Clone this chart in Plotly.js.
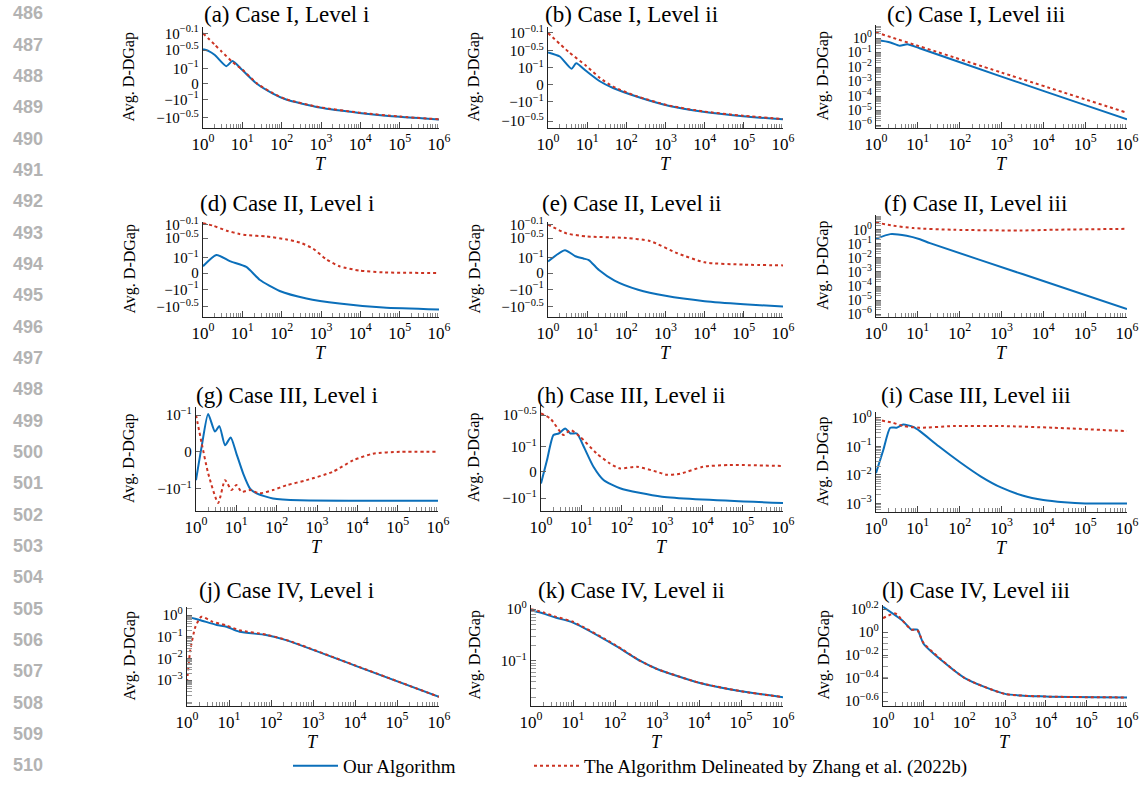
<!DOCTYPE html>
<html><head><meta charset="utf-8">
<script src="https://cdn.plot.ly/plotly-3.0.1.min.js"></script>
<style>body{margin:0;background:#fff}#chart{width:1140px;height:786px}</style>
</head><body><div id="chart"></div>
<script>
// ---------- data (T values, and y values in each panel's axis units) ----------
const a_our_T=[1,1.4,2,3.9,5.6,10,23,60,130,930,9500,1e5,1e6];
const a_our_y=[2.27,2.15,1.89,1.15,1.49,0.89,0,-0.67,-1.07,-1.6,-1.96,-2.22,-2.4];
const a_zh_T=[1,2,3,5.75,10,23,60,130,930,9500,1e5,1e6];
const a_zh_y=[3.33,2.57,2.11,1.4,0.92,0.02,-0.65,-1.05,-1.58,-1.94,-2.2,-2.38];

const b_our_T=[1,2,4,5.25,9.5,21,46,182,1260,9100,95500,1e6];
const b_our_y=[1.9,1.66,0.94,1.26,0.8,0.2,-0.2,-0.7,-1.26,-1.6,-1.86,-2.05];
const b_zh_T=[1,3.5,9.5,21,46,182,1260,9100,95500,1e6];
const b_zh_y=[3.04,1.9,1.1,0.4,-0.12,-0.68,-1.24,-1.58,-1.84,-2.03];

const c_our_T=[1,2.2,3.7,5.6,11,1000,1e5,1e6];
const c_our_y=[0.76,0.5,0.295,0.38,0.2,0.0022,0.000024,0.0000025];
const c_zh_T=[1,1000,1e6];
const c_zh_y=[2.45,0.0042,0.0000071];

const d_our_T=[1,2.2,4.8,12.6,27.5,89,427,2950,38000,1e6];
const d_our_y=[0.44,1.18,0.78,0.4,-0.44,-1.18,-1.67,-2.0,-2.27,-2.4];
const d_zh_T=[1,1.8,4,8.5,12.6,40,126,290,630,1380,2950,9500,38000,1e6];
const d_zh_y=[3.27,3.11,2.78,2.56,2.49,2.4,2.22,2.0,1.6,0.89,0.44,0.16,0.04,0];

const e_our_T=[1,2.7,5,8,11,20,50,200,1000,1e4,1e5,1e6];
const e_our_y=[0.75,1.5,1.1,0.95,0.85,0.2,-0.5,-1.1,-1.5,-1.85,-2.05,-2.2];
const e_zh_T=[1,3,10,100,400,2000,1e4,1e5,1e6];
const e_zh_y=[3.18,2.6,2.4,2.3,2.1,1.3,0.7,0.55,0.5];

const f_our_T=[1,2.2,5.4,11.2,19.5,3162,1e6];
const f_our_y=[0.23,0.49,0.37,0.21,0.112,0.00071,0.0000023];
const f_zh_T=[1,2.6,7.8,71,2800,17800,1e6];
const f_zh_y=[3.3,1.95,1.32,1.0,0.89,1.0,1.17];

const g_our_T=[1,1.38,2,2.95,3.8,5.25,7.24,10,14.8,21.9,31.6,81,372,1e6];
const g_our_y=[-0.77,0.14,1.03,0.55,0.7,0.18,0.39,-0.04,-0.59,-1.0,-1.13,-1.27,-1.32,-1.33];
const g_zh_T=[1,1.38,2,3.55,5.25,7.6,10,13.5,21.9,38,81,174,550,2500,7900,24500,112000,1e6];
const g_zh_y=[1.0,0.24,-0.58,-1.39,-0.77,-1.04,-0.9,-1.09,-1.04,-1.13,-1.04,-0.91,-0.77,-0.54,-0.23,-0.05,0,0];

const h_our_T=[1,1.41,2.04,2.75,3.98,5.37,7.76,11.5,20,35.5,91,1000,1e6];
const h_our_y=[-0.47,0.47,1.47,1.53,1.73,1.53,1.53,1.0,0.2,-0.33,-0.66,-1.0,-1.25];
const h_zh_T=[1,1.7,3.63,5.37,9.33,24,51.3,91,234,741,1318,2818,10470,47860,1e6];
const h_zh_y=[2.33,2.13,1.47,1.67,1.4,0.73,0.33,0.13,0.2,0,-0.12,-0.08,0.2,0.27,0.23];

const i_our_T=[1,1.5,2.19,3.09,4.47,7.76,11.2,31.6,100,316,1000,3162,1e4,31620,1e5,1e6];
const i_our_y=[0.0115,0.0759,0.447,0.447,0.575,0.479,0.339,0.1,0.0282,0.00891,0.00355,0.0019,0.00132,0.0011,0.001,0.001];
const i_zh_T=[1,2.57,4.47,11.2,70.8,1000,16980,1e6];
const i_zh_y=[0.87,0.66,0.51,0.447,0.51,0.51,0.447,0.339];

const j_our_T=[1,2,5.1,8.7,17.8,76,229,1e4,1e6];
const j_our_y=[0.83,0.59,0.35,0.29,0.17,0.12,0.07,0.0047,0.00017];
const j_zh_T=[1,1.2,1.6,2.2,4,8.7,17.8,76,229,1e4,1e6];
const j_zh_y=[0.0008,0.025,0.3,0.83,0.5,0.33,0.2,0.125,0.072,0.0048,0.00017];

const k_our_T=[1,2,4,10,100,400,1000,1e4,1e5,1e6];
const k_our_y=[0.95,0.82,0.68,0.55,0.2,0.1,0.07,0.038,0.026,0.02];
const k_zh_T=[1,2,4,10,100,400,1000,1e4,1e5,1e6];
const k_zh_y=[1.0,0.86,0.71,0.57,0.205,0.1,0.07,0.038,0.026,0.02];

const l_our_T=[1,3,5,7,10,100,1000,1e4,1e6];
const l_our_y=[1.66,1.26,1.05,1.05,0.79,0.4,0.29,0.275,0.27];
const l_zh_T=[1,2,3,5,7,10,100,1000,1e4,1e6];
const l_zh_y=[1.32,1.45,1.26,1.05,1.04,0.8,0.4,0.29,0.275,0.27];

// tick labels
const symLabels=['10<sup>−0.1</sup>','10<sup>−0.5</sup>','10<sup>−1</sup>','0','−10<sup>−1</sup>','−10<sup>−0.5</sup>'];
const gLabels=['10<sup>−1</sup>','0','−10<sup>−1</sup>'];
const hLabels=['10<sup>−0.5</sup>','10<sup>−1</sup>','0','−10<sup>−1</sup>'];
const xTickLabels=['10<sup>0</sup>','10<sup>1</sup>','10<sup>2</sup>','10<sup>3</sup>','10<sup>4</sup>','10<sup>5</sup>','10<sup>6</sup>'];
const xTickVals=[1,10,100,1000,1e4,1e5,1e6];
const logLabels6=['10<sup>0</sup>','10<sup>−1</sup>','10<sup>−2</sup>','10<sup>−3</sup>','10<sup>−4</sup>','10<sup>−5</sup>','10<sup>−6</sup>'];
const logVals6=[1,0.1,0.01,0.001,1e-4,1e-5,1e-6];
const lLabels=['10<sup>0.2</sup>','10<sup>0</sup>','10<sup>−0.2</sup>','10<sup>−0.4</sup>','10<sup>−0.6</sup>'];
const lVals=[1.585,1,0.631,0.398,0.251];
const titles=['(a) Case I, Level i','(b) Case I, Level ii','(c) Case I, Level iii','(d) Case II, Level i','(e) Case II, Level ii','(f) Case II, Level iii','(g) Case III, Level i','(h) Case III, Level ii','(i) Case III, Level iii','(j) Case IV, Level i','(k) Case IV, Level ii','(l) Case IV, Level iii'];
const legendNames=['Our Algorithm','The Algorithm Delineated by Zhang et al. (2022b)'];

// ---------- layout ----------
const W=1140,H=786;
const BLUE='#0b6fba', RED='#cc3322';
const SERIF='"Liberation Serif","DejaVu Serif",serif';
const panels=[
 {our:[a_our_T,a_our_y],zh:[a_zh_T,a_zh_y],box:[203,439,27,128],type:'linear',tv:[3.33,2.22,1,0,-1.05,-2.27],tt:symLabels,range:[-2.96,3.75],fs:15},
 {our:[b_our_T,b_our_y],zh:[b_zh_T,b_zh_y],box:[548,783,27,128],type:'linear',tv:[3.05,2.0,1,0,-1.0,-2.15],tt:symLabels,range:[-2.56,3.4],fs:15},
 {our:[c_our_T,c_our_y],zh:[c_zh_T,c_zh_y],box:[876,1127,25,128],type:'log',tv:logVals6,tt:logLabels6,range:[-6.2,0.9],fs:14},
 {our:[d_our_T,d_our_y],zh:[d_zh_T,d_zh_y],box:[203,439,222,317],type:'linear',tv:[3.18,2.29,1,0,-1.07,-2.22],tt:symLabels,range:[-2.89,3.35],fs:15},
 {our:[e_our_T,e_our_y],zh:[e_zh_T,e_zh_y],box:[548,783,222,317],type:'linear',tv:[3.18,2.29,1,0,-1.07,-2.22],tt:symLabels,range:[-2.89,3.35],fs:15},
 {our:[f_our_T,f_our_y],zh:[f_zh_T,f_zh_y],box:[876,1127,215,317],type:'log',tv:logVals6,tt:logLabels6,range:[-6.2,1.05],fs:14},
 {our:[g_our_T,g_our_y],zh:[g_zh_T,g_zh_y],box:[196,438,407,511],type:'linear',tv:[1,0,-1],tt:gLabels,range:[-1.61,1.22],fs:15},
 {our:[h_our_T,h_our_y],zh:[h_zh_T,h_zh_y],box:[541,783,405,511],type:'linear',tv:[2.27,1,0,-1.05],tt:hLabels,range:[-1.57,2.67],fs:15},
 {our:[i_our_T,i_our_y],zh:[i_zh_T,i_zh_y],box:[876,1127,412,512],type:'log',tv:logVals6.slice(0,4),tt:logLabels6.slice(0,4),range:[-3.3,0.2],fs:15},
 {our:[j_our_T,j_our_y],zh:[j_zh_T,j_zh_y],box:[187,439,607,706],type:'log',tv:logVals6.slice(0,4),tt:logLabels6.slice(0,4),range:[-4.19,0.37],fs:15},
 {our:[k_our_T,k_our_y],zh:[k_zh_T,k_zh_y],box:[531,783,605,706],type:'log',tv:[1,0.1],tt:['10<sup>0</sup>','10<sup>−1</sup>'],range:[-1.87,0.08],fs:15},
 {our:[l_our_T,l_our_y],zh:[l_zh_T,l_zh_y],box:[883,1127,605,706],type:'log',tv:lVals,tt:lLabels,range:[-0.643,0.235],fs:15}
];
const colCenters=[286.5,631,975.5];
const rowTitleY=[15,203,395,590];
const yLabX=[129,474,823];

function minorLog(lo,hi){const v=[];for(let e=lo;e<=hi;e++){for(let d=2;d<=9;d++)v.push(d*Math.pow(10,e));}return v;}

const layout={width:W,height:H,margin:{l:0,r:0,t:0,b:0},paper_bgcolor:'#fff',plot_bgcolor:'rgba(0,0,0,0)',
 font:{family:SERIF,size:16,color:'#000'},showlegend:true,annotations:[],
 legend:{orientation:'h',x:288/W,y:1-766/H,xanchor:'left',yanchor:'middle',font:{family:SERIF,size:19},bgcolor:'rgba(0,0,0,0)',itemwidth:45},
 legend2:{orientation:'h',x:529/W,y:1-766/H,xanchor:'left',yanchor:'middle',font:{family:SERIF,size:19},bgcolor:'rgba(0,0,0,0)',itemwidth:45}};
const data=[];
panels.forEach((p,i)=>{
 const n=i+1, xs=n===1?'':String(n);
 const [l,r,t,b]=p.box;
 layout['xaxis'+xs]={domain:[l/W,r/W],anchor:'y'+xs,type:'log',range:[0,6],tickmode:'array',tickvals:xTickVals,ticktext:xTickLabels,
  ticks:'inside',ticklen:6,tickcolor:'#444',showline:true,linecolor:'#222',linewidth:1.2,showgrid:false,zeroline:false,
  tickfont:{family:SERIF,size:17},fixedrange:true,
  minor:{tickmode:'array',tickvals:minorLog(0,5),ticks:'inside',ticklen:4,tickcolor:'#888',showgrid:false}};
 const ya={domain:[1-b/H,1-t/H],anchor:'x'+xs,type:p.type,range:p.range,tickmode:'array',tickvals:p.tv,ticktext:p.tt,
  ticks:'inside',ticklen:5,tickcolor:'#666',showline:true,linecolor:'#222',linewidth:1.2,showgrid:false,zeroline:false,
  tickfont:{family:SERIF,size:p.fs},fixedrange:true};
 if(p.type==='log'){ya.minor={tickmode:'array',tickvals:minorLog(-7,0),ticks:'inside',ticklen:5,tickcolor:'#999',showgrid:false};}
 layout['yaxis'+xs]=ya;
 data.push({x:p.our[0],y:p.our[1],xaxis:'x'+xs,yaxis:'y'+xs,mode:'lines',name:legendNames[0],showlegend:n===1,legend:'legend',
  line:{color:BLUE,width:2,shape:'spline',smoothing:0.6},hoverinfo:'skip'});
 data.push({x:p.zh[0],y:p.zh[1],xaxis:'x'+xs,yaxis:'y'+xs,mode:'lines',name:legendNames[1],showlegend:n===1,legend:'legend2',
  line:{color:RED,width:2,dash:'dot',shape:'spline',smoothing:0.6},hoverinfo:'skip'});
 const col=i%3,row=Math.floor(i/3);
 layout.annotations.push({text:titles[i],xref:'paper',yref:'paper',x:colCenters[col]/W,y:1-rowTitleY[row]/H,xanchor:'center',yanchor:'middle',showarrow:false,font:{family:SERIF,size:23}});
 layout.annotations.push({text:'Avg. D-DGap',xref:'paper',yref:'paper',x:yLabX[col]/W,y:1-((t+b)/2)/H,xanchor:'center',yanchor:'middle',textangle:-90,showarrow:false,font:{family:SERIF,size:16}});
 layout.annotations.push({text:'<i>T</i>',xref:'paper',yref:'paper',x:((l+r)/2)/W,y:1-(b+36)/H,xanchor:'center',yanchor:'middle',showarrow:false,font:{family:SERIF,size:18}});
});
// line numbers
for(let k=0;k<=24;k++){
 layout.annotations.push({text:String(486+k),xref:'paper',yref:'paper',x:28/W,y:1-(13.3+31.33*k)/H,xanchor:'center',yanchor:'middle',showarrow:false,font:{family:'"Liberation Sans",Arial,sans-serif',size:18,color:'#b3b3b3',weight:'bold'}});
}
Plotly.newPlot('chart',data,layout,{displayModeBar:false,staticPlot:true});
</script></body></html>
